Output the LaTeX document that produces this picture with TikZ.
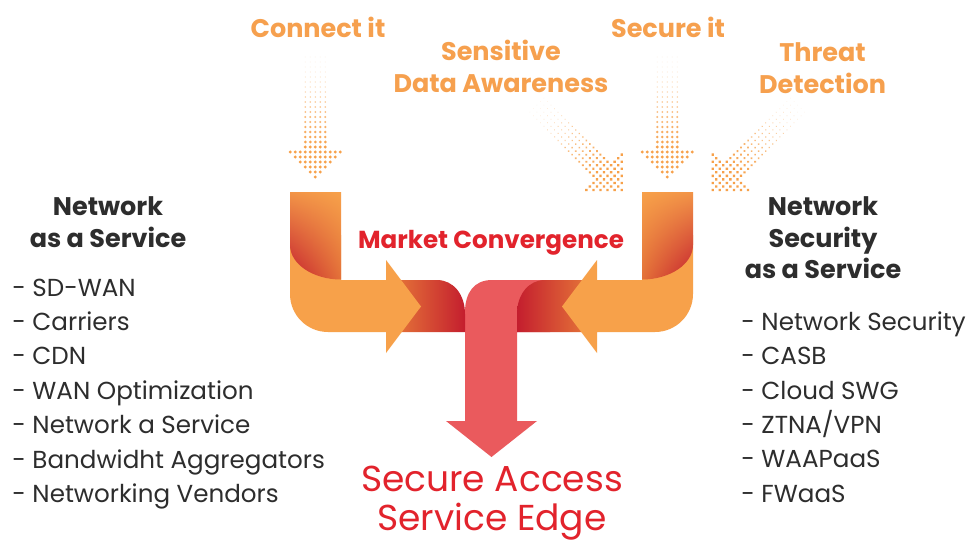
\documentclass[tikz,border=0pt]{standalone}
\usepackage{fontspec}
\setmainfont{Poppins}
\usepackage{tikz}
\usetikzlibrary{positioning,shadings}
\definecolor{saseOrange}{RGB}{247,161,74}
\definecolor{bandOrange}{RGB}{233,128,58}
\definecolor{deepRed}{RGB}{196,30,46}
\definecolor{arrowRed}{RGB}{234,90,93}
\definecolor{titleRed}{RGB}{226,35,44}
\definecolor{cueOrange}{RGB}{246,160,78}
\definecolor{textGray}{RGB}{45,45,45}

\begin{document}
\begin{tikzpicture}[x=0.02cm,y=-0.02cm,
    cue/.style={font=\fontsize{14.5}{18.1}\selectfont\bfseries,text=cueOrange,align=center,inner sep=0pt},
    heading/.style={font=\fontsize{14.5}{17.9}\selectfont\bfseries,text=textGray,align=center,inner sep=0pt},
    listing/.style={font=\fontsize{14}{19.6}\selectfont,text=textGray,align=left,inner sep=0pt,anchor=west},
    converge/.style={font=\fontsize{14}{17}\selectfont\bfseries,text=titleRed,inner sep=0pt},
    sase/.style={font=\fontsize{20.5}{22}\selectfont,text=titleRed,align=center,inner sep=0pt},
    dotarrow/.pic={
        % stem, fading in towards the head
        \foreach \r in {0,...,18}{
            \pgfmathsetmacro\rad{0.35+1.25*(\r/18)^1.3}
            \pgfmathsetmacro\op{0.2+0.8*\r/18}
            \foreach \c in {-10,-5,...,10}
                \fill[saseOrange,opacity=\op] (\c,-120+5*\r) circle[radius=\rad];
        }
        % head
        \foreach \k in {0,...,5}{
            \pgfmathtruncatemacro\n{10-2*\k}
            \foreach \i in {0,...,\n}
                \fill[saseOrange] (5*\i-25+5*\k,-25+5*\k) circle[radius=1.65];
        }
    }
]
    \fill[white] (0,0) rectangle (974,544);
    \useasboundingbox (0,0) rectangle (974,544);

    % dotted inputs
    \pic at (315.3,177) {dotarrow};
    \pic at (667.3,177) {dotarrow};
    \pic[rotate=45] at (621.7,190) {dotarrow};
    \pic[rotate=-45] at (712.7,190) {dotarrow};

    % red output arrow
    \fill[arrowRed] (465,421) -- (465,312) .. controls (465,293) and (474,280) .. (492,280)
        -- (550,280) -- (550,332) -- (517,332) -- (517,421) -- (537,421)
        -- (491.5,457) -- (446,421) -- cycle;

    % folded bands
    \shade[left color=bandOrange,middle color=saseOrange,right color=deepRed]
        (386,280) -- (437,280) .. controls (453,280) and (465,294) .. (465,314)
        -- (465,332) -- (386,332) -- cycle;
    \shade[left color=deepRed,middle color=saseOrange,right color=bandOrange]
        (597,280) -- (545,280) .. controls (529,280) and (517,294) .. (517,314)
        -- (517,332) -- (597,332) -- cycle;

    % orange L arrows
    \fill[saseOrange] (290,235) -- (290,294) .. controls (290,315) and (307,332) .. (328,332)
        -- (386,332) -- (386,353) -- (421,306.5) -- (386,260) -- (386,280)
        -- (341,280) -- (341,235) -- cycle;
    \fill[saseOrange] (693,235) -- (693,294) .. controls (693,315) and (676,332) .. (655,332)
        -- (597,332) -- (597,353) -- (562,306.5) -- (597,260) -- (597,280)
        -- (642,280) -- (642,235) -- cycle;

    % vertical bars
    \shade[upper left=saseOrange!90!deepRed,upper right=saseOrange,
           lower left=deepRed,lower right=bandOrange!85!deepRed]
        (290,192) -- (290,245) .. controls (290,264) and (313,279.5) .. (341,279.5)
        -- (341,192) -- cycle;
    \shade[upper left=saseOrange,upper right=saseOrange!90!deepRed,
           lower left=bandOrange!85!deepRed,lower right=deepRed]
        (693,192) -- (693,245) .. controls (693,264) and (670,279.5) .. (642,279.5)
        -- (642,192) -- cycle;

    % labels
    \node[cue] (connect) at (318,27) {Connect it};
    \node[cue] (sensitive) at (501,66) {Sensitive\\Data Awareness};
    \node[cue] (secure) at (668,27) {Secure it};
    \node[cue] (threat) at (822.5,68) {Threat\\Detection};

    \node[heading] (naas) at (108,222) {Network\\as a Service};
    \node[heading] (nsaas) at (823,238) {Network\\Security\\as a Service};

    \node[listing] (naaslist) at (12,394) {- SD-WAN\\- Carriers\\- CDN\\- WAN Optimization\\- Network a Service\\- Bandwidht Aggregators\\- Networking Vendors};
    \node[listing] (nsaaslist) at (741,407) {- Network Security\\- CASB\\- Cloud SWG\\- ZTNA/VPN\\- WAAPaaS\\- FWaaS};

    \node[converge] (market) at (491,243) {Market Convergence};
    \node[sase] (edge) at (492,503) {Secure Access\\Service Edge};
\end{tikzpicture}
\end{document}
